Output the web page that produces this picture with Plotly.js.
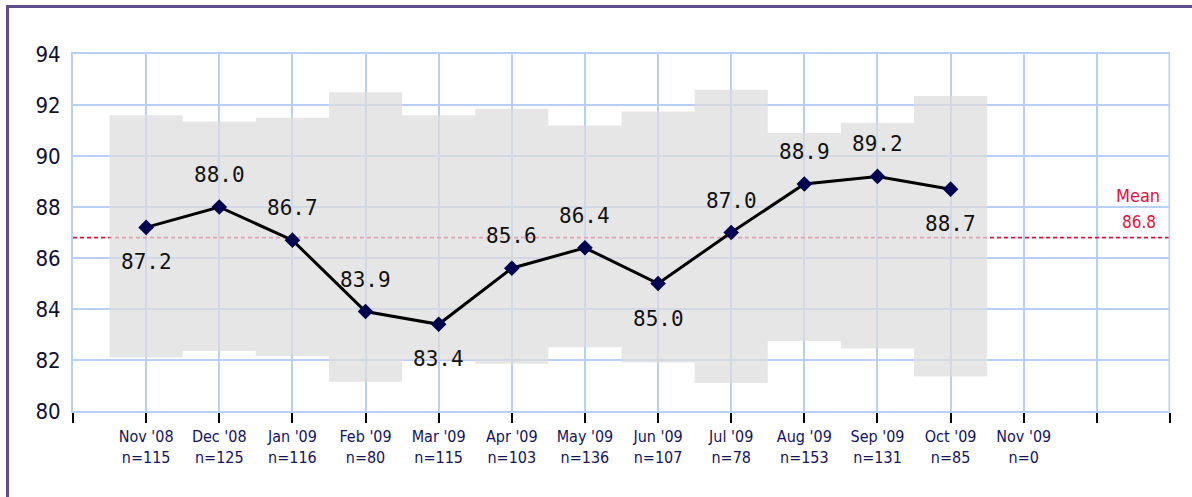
<!DOCTYPE html>
<html>
<head>
<meta charset="utf-8">
<script src="https://cdn.plot.ly/plotly-3.0.1.min.js"></script>
<style>
  html, body { margin: 0; padding: 0; background: #fff; }
  #wrap { position: relative; width: 1192px; height: 497px; overflow: hidden; }
  #chart { position: absolute; left: 0; top: 0; width: 1192px; height: 497px; }
  #frame { position: absolute; left: 6px; top: 5px; right: -10px; bottom: -10px;
           border-top: 3px solid #5f4f8c; border-left: 3px solid #5f4f8c; pointer-events: none; }
</style>
</head>
<body>
<div id="wrap">
  <div id="chart"></div>
  <div id="frame"></div>
</div>
<script>
// ---- data ----
const months   = ["Nov '08","Dec '08","Jan '09","Feb '09","Mar '09","Apr '09","May '09","Jun '09","Jul '09","Aug '09","Sep '09","Oct '09","Nov '09"];
const counts   = [115, 125, 116, 80, 115, 103, 136, 107, 78, 153, 131, 85, 0];
const scores   = [87.2, 88.0, 86.7, 83.9, 83.4, 85.6, 86.4, 85.0, 87.0, 88.9, 89.2, 88.7];
const upperCI  = [91.6, 91.35, 91.5, 92.5, 91.6, 91.85, 91.2, 91.75, 92.6, 90.9, 91.3, 92.35];
const lowerCI  = [82.1, 82.35, 82.15, 81.15, 82.0, 81.85, 82.5, 81.9, 81.1, 82.75, 82.45, 81.35];
const meanValue = 86.8;
const meanLabel = "Mean";

// ---- derived positions ----
const xs = scores.map((_, i) => i + 1);
const nSlots = months.length + 2;           // empty slots at the right end
const tickVals = [];
const tickText = [];
for (let i = 0; i <= nSlots; i++) {
  tickVals.push(i);
  tickText.push(i >= 1 && i <= months.length ? months[i - 1] + "<br>n=" + counts[i - 1] : "");
}

// step band from the CI arrays
const bandX = [], bandY = [];
upperCI.forEach((u, i) => { bandX.push(xs[i] - 0.5, xs[i] + 0.5); bandY.push(u, u); });
for (let i = lowerCI.length - 1; i >= 0; i--) { bandX.push(xs[i] + 0.5, xs[i] - 0.5); bandY.push(lowerCI[i], lowerCI[i]); }
bandX.push(bandX[0]); bandY.push(bandY[0]);

const traces = [
  { x: [0, nSlots], y: [meanValue, meanValue], mode: 'lines', hoverinfo: 'skip',
    line: { color: '#e0143c', width: 1.6, dash: '4px,3px' } },
  { x: bandX, y: bandY, mode: 'lines', fill: 'toself', hoverinfo: 'skip',
    fillcolor: 'rgba(220,220,220,0.72)', line: { width: 0, color: 'rgba(0,0,0,0)' } },
  { x: xs, y: scores, mode: 'lines+markers',
    line: { color: '#000000', width: 3 },
    marker: { symbol: 'diamond', size: 12, color: '#000050' } }
];

// value labels: below for local minima, above otherwise
const annotations = scores.map((v, i) => {
  const prev = i > 0 ? scores[i - 1] : Infinity;
  const next = i < scores.length - 1 ? scores[i + 1] : Infinity;
  const below = v < prev && v < next;
  return { x: xs[i], y: v, text: v.toFixed(1), showarrow: false,
           xanchor: 'center', yanchor: 'middle', yshift: below ? -35 : 32,
           font: { family: 'DejaVu Sans Mono', size: 21, color: '#111111' } };
});
annotations.push({ x: nSlots, y: meanValue, xref: 'x', yref: 'y', text: meanLabel,
  showarrow: false, xanchor: 'right', yanchor: 'middle', xshift: -8, yshift: 42,
  font: { family: 'DejaVu Sans Condensed', size: 18, color: '#e0143c' } });
annotations.push({ x: nSlots, y: meanValue, xref: 'x', yref: 'y', text: meanValue.toFixed(1),
  showarrow: false, xanchor: 'right', yanchor: 'middle', xshift: -12, yshift: 16,
  font: { family: 'DejaVu Sans Condensed', size: 17, color: '#e0143c' } });

const layout = {
  width: 1192, height: 497,
  margin: { l: 73, r: 22, t: 54, b: 86, pad: 0 },
  paper_bgcolor: 'rgba(0,0,0,0)', plot_bgcolor: '#ffffff',
  showlegend: false,
  xaxis: {
    range: [0, nSlots], tickmode: 'array', tickvals: tickVals, ticktext: tickText,
    showgrid: true, gridcolor: '#b8d0f8', gridwidth: 2, zeroline: false,
    ticks: 'outside', ticklen: 10, tickwidth: 2, tickcolor: '#000000',
    showline: true, linecolor: '#b8d0f8', linewidth: 2, mirror: true, fixedrange: true,
    tickfont: { family: 'DejaVu Sans Condensed', size: 16, color: '#14145a' }
  },
  yaxis: {
    range: [80, 94], dtick: 2, tick0: 80,
    showgrid: true, gridcolor: '#b8d0f8', gridwidth: 2, zeroline: false,
    ticks: '', showline: true, linecolor: '#b8d0f8', linewidth: 2, fixedrange: true, ticklabelstandoff: 6,
    tickfont: { family: 'DejaVu Sans Condensed', size: 22, color: '#101030' }
  },
  shapes: [
    { type: 'line', xref: 'x', yref: 'y', x0: nSlots, x1: nSlots, y0: 80, y1: 94,
      line: { color: '#b8d0f8', width: 3 } }
  ],
  annotations: annotations
};

Plotly.newPlot('chart', traces, layout, { displayModeBar: false, staticPlot: true });
</script>
</body>
</html>
